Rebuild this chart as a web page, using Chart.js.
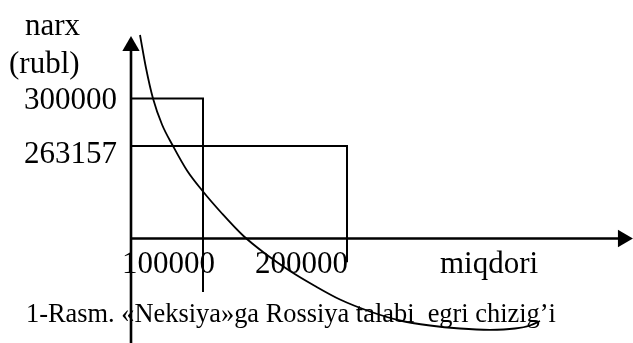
<!DOCTYPE html>
<html><head><meta charset="utf-8">
<script src="https://cdn.jsdelivr.net/npm/chart.js@4/dist/chart.umd.min.js"></script>
<style>html,body{margin:0;padding:0;background:#fff;overflow:hidden}#wrap{width:633px;height:343px}</style>
</head><body><div id="wrap"><canvas id="c" width="633" height="343"></canvas></div>
<script>
// ---- data ----
const quantities = [100000, 200000];
const prices = [300000, 263157];
const guideEndPrices = [150000, 173000];
const xTickLabels = ['100000', '200000'];
const yTickLabels = ['300000', '263157'];
const yTitleLines = ['narx', '(rubl)'];
const xTitle = 'miqdori';
const caption = '1-Rasm. «Neksiya»ga Rossiya talabi  egri chizig’i';
const curveQ = [56250, 60420, 65280, 71530, 79170, 88890, 100000, 113190, 127770, 143050, 160410, 177770, 195130, 215960, 236790, 257620, 278460, 299290, 316650, 327060, 334010];
const curveP = [349250, 323660, 300000, 279830, 263160, 244160, 227870, 210810, 193740, 179780, 166210, 154580, 144110, 134800, 127820, 123940, 121610, 120610, 121610, 123940, 127430];
const originQ = 50000;      // vertical axis drawn at this quantity
const originP = 191400;     // horizontal axis drawn at this price
const axisEndQ = 391600;    // horizontal arrow
const axisEndP = 340700;    // vertical arrow
const axisBottomP = 100000;

const K = '#000';
const pts = (xs, ys) => xs.map((x, i) => ({x, y: ys[i]}));

const datasets = [
  {data: [{x: originQ, y: axisBottomP}, {x: originQ, y: axisEndP}], borderWidth: 2.6},
  {data: [{x: originQ, y: originP}, {x: axisEndQ, y: originP}], borderWidth: 2.6},
  {data: [{x: originQ, y: prices[0]}, {x: quantities[0], y: prices[0]}, {x: quantities[0], y: guideEndPrices[0]}], borderWidth: 2},
  {data: [{x: originQ, y: prices[1]}, {x: quantities[1], y: prices[1]}, {x: quantities[1], y: guideEndPrices[1]}], borderWidth: 2},
  {data: pts(curveQ, curveP), borderWidth: 1.8, cubicInterpolationMode: 'monotone'},
  {data: [{x: originQ, y: axisEndP}], showLine: false, pointStyle: 'triangle', pointRadius: 10, pointRotation: 0, pointBackgroundColor: K, pointBorderWidth: 0},
  {data: [{x: axisEndQ, y: originP}], showLine: false, pointStyle: 'triangle', pointRadius: 10, pointRotation: 90, pointBackgroundColor: K, pointBorderWidth: 0}
].map(d => Object.assign({borderColor: K, pointRadius: 0, showLine: true, fill: false, clip: false}, d));

const textPlugin = {
  id: 'texts',
  afterDatasetsDraw(chart) {
    const {ctx, scales: {x, y}} = chart;
    const ox = x.getPixelForValue(originQ);
    ctx.save();
    ctx.fillStyle = K;
    ctx.textBaseline = 'alphabetic';
    ctx.font = '31px "Liberation Serif", "Times New Roman", serif';
    ctx.textAlign = 'left';
    ctx.fillText(yTitleLines[0], 25, 35);
    ctx.fillText(yTitleLines[1], 9, 72.5);
    ctx.textAlign = 'right';
    ctx.fillText(yTickLabels[0], ox - 14, y.getPixelForValue(prices[0]) + 10);
    ctx.fillText(yTickLabels[1], ox - 14, y.getPixelForValue(prices[1]) + 16.5);
    ctx.textAlign = 'left';
    const by = y.getPixelForValue(originP) + 34.5;
    ctx.fillText(xTickLabels[0], x.getPixelForValue(quantities[0]) - 81, by);
    ctx.fillText(xTickLabels[1], x.getPixelForValue(quantities[1]) - 92, by);
    ctx.fillText(xTitle, 440, by);
    ctx.font = '26.4px "Liberation Serif", "Times New Roman", serif';
    ctx.fillText(caption, 26, 322);
    ctx.restore();
  }
};

new Chart(document.getElementById('c'), {
  type: 'scatter',
  data: {datasets},
  options: {
    responsive: false,
    animation: false,
    layout: {padding: 0, autoPadding: false},
    plugins: {legend: {display: false}, tooltip: {enabled: false}},
    scales: {
      x: {type: 'linear', display: false, min: -40970, max: 398600},
      y: {type: 'linear', display: false, min: 110370, max: 376400}
    }
  },
  plugins: [textPlugin]
});
</script></body></html>
